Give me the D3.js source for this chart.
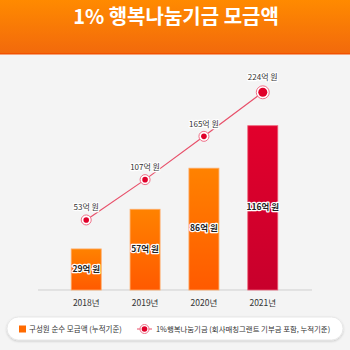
<!DOCTYPE html>
<html>
<head>
<meta charset="utf-8">
<script src="https://cdn.jsdelivr.net/npm/d3@7"></script>
<style>
  html, body { margin: 0; padding: 0; background: #f4f4f4; }
  text { font-family: "Noto Sans CJK KR", "Noto Sans", sans-serif; }
</style>
</head>
<body>
<div id="chart"></div>
<script>
const years = ["2018년", "2019년", "2020년", "2021년"];
const memberTotals = [29, 57, 86, 116];      // 구성원 순수 모금액 (억 원)
const fundTotals = [53, 107, 165, 224];       // 1%행복나눔기금 (억 원)
const titleText = "1% 행복나눔기금 모금액";
const legendLabels = ["구성원 순수 모금액 (누적기준)", "1%행복나눔기금 (회사매칭그랜트 기부금 포함, 누적기준)"];

const width = 350, height = 350;

const svg = d3.select("#chart").append("svg")
    .attr("width", width)
    .attr("height", height)
    .style("display", "block");

const defs = svg.append("defs");
const hg = defs.append("linearGradient").attr("id", "headGrad").attr("x1", 0).attr("y1", 0).attr("x2", 0).attr("y2", 1);
hg.append("stop").attr("offset", "0%").attr("stop-color", "#ff8a00");
hg.append("stop").attr("offset", "100%").attr("stop-color", "#f2690c");

const og = defs.append("linearGradient").attr("id", "orangeGrad").attr("x1", 0).attr("y1", 0).attr("x2", 0).attr("y2", 1);
og.append("stop").attr("offset", "0%").attr("stop-color", "#ff8200");
og.append("stop").attr("offset", "100%").attr("stop-color", "#ff5a00");

const rg = defs.append("linearGradient").attr("id", "redGrad").attr("x1", 0).attr("y1", 0).attr("x2", 0).attr("y2", 1);
rg.append("stop").attr("offset", "0%").attr("stop-color", "#e2002c");
rg.append("stop").attr("offset", "100%").attr("stop-color", "#c8002c");

const sh = defs.append("filter").attr("id", "shadow").attr("x", "-10%").attr("y", "-50%").attr("width", "120%").attr("height", "200%");
sh.append("feDropShadow").attr("dx", 0).attr("dy", 1).attr("stdDeviation", 1.2).attr("flood-color", "#000").attr("flood-opacity", 0.18);

// background + header
svg.append("rect").attr("width", width).attr("height", height).attr("fill", "#f4f4f4");
svg.append("rect").attr("width", width).attr("height", 54).attr("fill", "url(#headGrad)");
svg.append("rect").attr("y", 53).attr("width", width).attr("height", 1.5).attr("fill", "#f25200");
svg.append("text")
    .attr("x", width / 2 + 1)
    .attr("y", 19)
    .attr("text-anchor", "middle")
    .attr("dominant-baseline", "middle")
    .attr("fill", "#fff")
    .attr("font-size", 20)
    .attr("font-weight", 700)
    .text(titleText);

// scales
const baseline = 290;
const x = d3.scaleBand().domain(years).range([56.5, 292.5]).paddingInner(0.49).paddingOuter(0.25);
const yBar = d3.scaleLinear().domain([0, 116]).range([baseline, 125.7]);
const yLine = d3.scaleLinear().domain([0, 224]).range([259.5, 92.3]);
const cx = d => x(d) + x.bandwidth() / 2;

// axis line + year labels
const xAxis = svg.append("g").attr("transform", "translate(0," + baseline + ")")
    .call(d3.axisBottom(x).tickSize(0).tickPadding(10));
xAxis.select(".domain").remove();
xAxis.append("line").attr("x1", 38).attr("x2", 312).attr("stroke", "#cfcfcf").attr("stroke-width", 1);
xAxis.selectAll(".tick text")
    .attr("font-size", 8.5)
    .attr("fill", "#333")
    .attr("font-family", "\"Noto Sans CJK KR\", sans-serif");

// bars
const barData = years.map((y, i) => ({ year: y, value: memberTotals[i], last: i === years.length - 1 }));
svg.append("g").selectAll("rect")
    .data(barData)
    .enter()
    .append("rect")
    .attr("x", d => x(d.year))
    .attr("y", d => yBar(d.value))
    .attr("width", x.bandwidth())
    .attr("height", d => baseline - yBar(d.value))
    .attr("fill", d => d.last ? "url(#redGrad)" : "url(#orangeGrad)")
    .attr("stroke", d => d.last ? "#ee6078" : "#ffab66")
    .attr("stroke-width", 0.8);

svg.append("g").selectAll("text")
    .data(barData)
    .enter()
    .append("text")
    .attr("x", d => cx(d.year))
    .attr("y", d => (yBar(d.value) + baseline) / 2)
    .attr("text-anchor", "middle")
    .attr("dominant-baseline", "middle")
    .attr("font-size", 8.5)
    .attr("font-weight", 700)
    .attr("fill", "#222")
    .attr("stroke", "#fff")
    .attr("stroke-width", 2.4)
    .attr("stroke-linejoin", "round")
    .attr("paint-order", "stroke")
    .text(d => d.value + "억 원");

// line
const lineData = years.map((y, i) => ({ year: y, value: fundTotals[i], last: i === years.length - 1 }));
const line = d3.line().x(d => cx(d.year)).y(d => yLine(d.value));
svg.append("path")
    .datum(lineData)
    .attr("d", line)
    .attr("fill", "none")
    .attr("stroke", "#e8506a")
    .attr("stroke-width", 1.2);

const pts = svg.append("g").selectAll("g")
    .data(lineData)
    .enter()
    .append("g")
    .attr("transform", d => "translate(" + cx(d.year) + "," + yLine(d.value) + ")");
pts.append("circle")
    .attr("r", d => d.last ? 6.5 : 5)
    .attr("fill", "#fff")
    .attr("stroke", "#f07088")
    .attr("stroke-width", 1);
pts.append("circle")
    .attr("r", d => d.last ? 4.5 : 2.8)
    .attr("fill", "#e0002a");
pts.append("text")
    .attr("y", d => d.last ? -14 : -12)
    .attr("text-anchor", "middle")
    .attr("dominant-baseline", "middle")
    .attr("font-size", 8)
    .attr("fill", "#333")
    .attr("stroke", "#fff")
    .attr("stroke-width", 2.4)
    .attr("stroke-linejoin", "round")
    .attr("paint-order", "stroke")
    .text(d => d.value + "억 원");

// legend
const legend = svg.append("g");
legend.append("rect")
    .attr("x", 7).attr("y", 317).attr("width", 336).attr("height", 23).attr("rx", 11.5)
    .attr("fill", "#fff")
    .attr("stroke", "#e2e2e2")
    .attr("stroke-width", 0.8)
    .attr("filter", "url(#shadow)");
legend.append("rect")
    .attr("x", 19).attr("y", 325.5).attr("width", 7).attr("height", 7)
    .attr("fill", "#ff6a00");
legend.append("text")
    .attr("x", 29).attr("y", 329.5)
    .attr("dominant-baseline", "middle")
    .attr("font-size", 7.5)
    .attr("fill", "#333")
    .text(legendLabels[0]);
legend.append("line")
    .attr("x1", 137).attr("x2", 152).attr("y1", 329).attr("y2", 329)
    .attr("stroke", "#e8506a").attr("stroke-width", 1);
legend.append("circle").attr("cx", 144.5).attr("cy", 329).attr("r", 4.5)
    .attr("fill", "#fff").attr("stroke", "#f07088").attr("stroke-width", 1);
legend.append("circle").attr("cx", 144.5).attr("cy", 329).attr("r", 2.8).attr("fill", "#e0002a");
legend.append("text")
    .attr("x", 156).attr("y", 329.5)
    .attr("dominant-baseline", "middle")
    .attr("font-size", 7.4)
    .attr("fill", "#333")
    .text(legendLabels[1]);
</script>
</body>
</html>
